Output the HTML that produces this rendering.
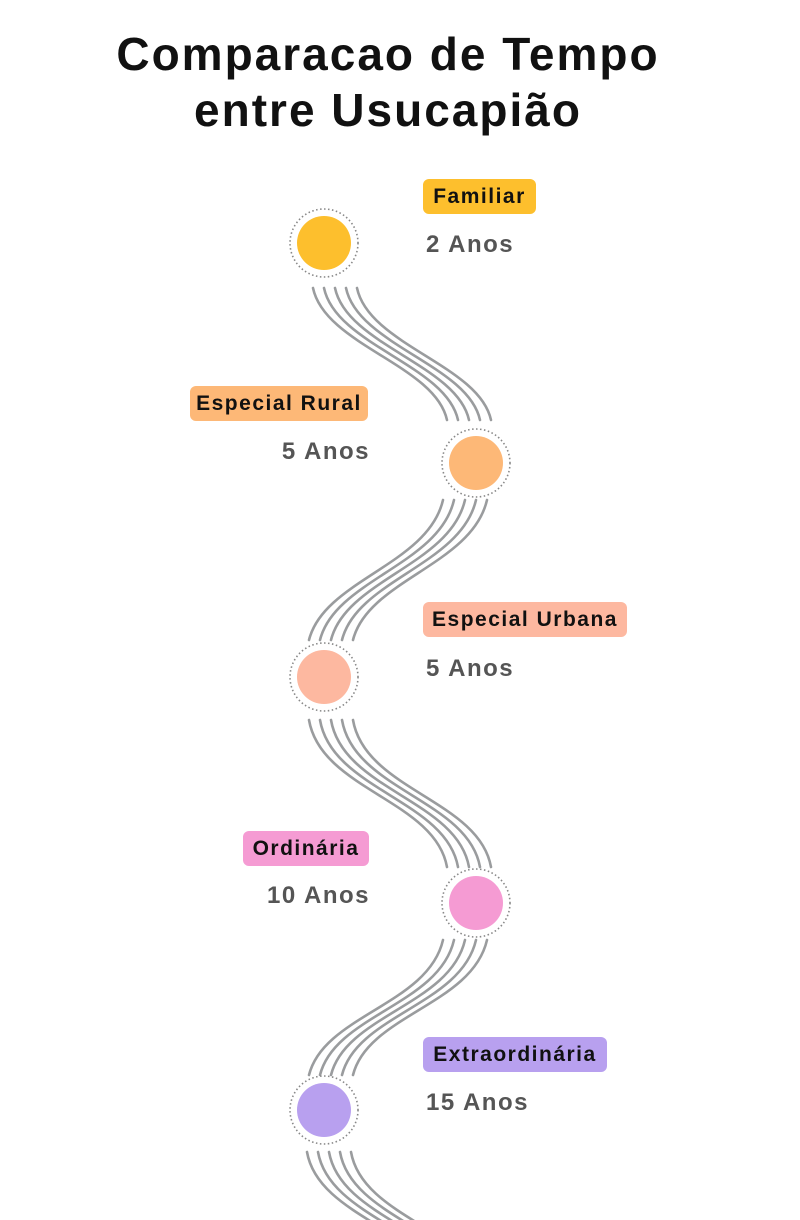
<!DOCTYPE html>
<html><head><meta charset="utf-8"><style>
html,body{margin:0;overflow:hidden}
body{background:#fff;width:800px;height:1220px;position:relative;font-family:"Liberation Sans",sans-serif}
h1{position:absolute;left:0;width:776px;top:26px;margin:0;text-align:center;font-size:46px;line-height:56px;font-weight:bold;color:#111;letter-spacing:2px}
.pill{position:absolute;height:35px;line-height:35px;border-radius:6px;font-weight:bold;font-size:21px;letter-spacing:1.5px;color:#111;text-align:center;box-sizing:border-box}
.yr{position:absolute;font-size:24px;font-weight:bold;color:#555;height:30px;line-height:30px;letter-spacing:1.5px}
svg{position:absolute;left:0;top:0}
</style></head><body>
<h1>Comparacao de Tempo<br>entre Usucapião</h1>
<svg width="800" height="1220">
<g fill="none" stroke="#9a9c9e" stroke-width="2.6" stroke-linecap="round">
<path d="M313 288 C325 345 435 365 447 420"/><path d="M324 288 C336 345 446 365 458 420"/><path d="M335 288 C347 345 457 365 469 420"/><path d="M346 288 C358 345 468 365 480 420"/><path d="M357 288 C369 345 479 365 491 420"/>
<path d="M443 500 C428 565 324 580 309 640"/><path d="M454 500 C439 565 335 580 320 640"/><path d="M465 500 C450 565 346 580 331 640"/><path d="M476 500 C461 565 357 580 342 640"/><path d="M487 500 C472 565 368 580 353 640"/>
<path d="M309 720 C321 790 435 800 447 867"/><path d="M320 720 C332 790 446 800 458 867"/><path d="M331 720 C343 790 457 800 469 867"/><path d="M342 720 C354 790 468 800 480 867"/><path d="M353 720 C365 790 479 800 491 867"/>
<path d="M443 940 C428 1005 324 1015 309 1075"/><path d="M454 940 C439 1005 335 1015 320 1075"/><path d="M465 940 C450 1005 346 1015 331 1075"/><path d="M476 940 C461 1005 357 1015 342 1075"/><path d="M487 940 C472 1005 368 1015 353 1075"/>
<path d="M307 1152 C319 1220 435 1230 447 1300"/><path d="M318 1152 C330 1220 446 1230 458 1300"/><path d="M329 1152 C341 1220 457 1230 469 1300"/><path d="M340 1152 C352 1220 468 1230 480 1300"/><path d="M351 1152 C363 1220 479 1230 491 1300"/>
</g>
<g stroke="#888" stroke-width="1.6" stroke-dasharray="1.5 2.5" fill="#fff">
<circle cx="324" cy="243" r="34"/><circle cx="476" cy="463" r="34"/><circle cx="324" cy="677" r="34"/><circle cx="476" cy="903" r="34"/><circle cx="324" cy="1110" r="34"/>
</g>
<circle cx="324" cy="243" r="27" fill="#fdbf2d"/>
<circle cx="476" cy="463" r="27" fill="#fdb877"/>
<circle cx="324" cy="677" r="27" fill="#fdb8a0"/>
<circle cx="476" cy="903" r="27" fill="#f59bd3"/>
<circle cx="324" cy="1110" r="27" fill="#b8a0ef"/>
</svg>
<div class="pill" style="left:423px;top:179px;width:113px;background:#fdbf2d">Familiar</div>
<div class="yr" style="left:426px;top:230px">2 Anos</div>
<div class="pill" style="left:190px;top:386px;width:178px;background:#fdb877">Especial Rural</div>
<div class="yr" style="left:150px;width:220px;text-align:right;top:437px">5 Anos</div>
<div class="pill" style="left:423px;top:602px;width:204px;background:#fdb8a0">Especial Urbana</div>
<div class="yr" style="left:426px;top:654px">5 Anos</div>
<div class="pill" style="left:243px;top:831px;width:126px;background:#f59bd3">Ordinária</div>
<div class="yr" style="left:150px;width:220px;text-align:right;top:881px">10 Anos</div>
<div class="pill" style="left:423px;top:1037px;width:184px;background:#b8a0ef">Extraordinária</div>
<div class="yr" style="left:426px;top:1088px">15 Anos</div>
</body></html>
